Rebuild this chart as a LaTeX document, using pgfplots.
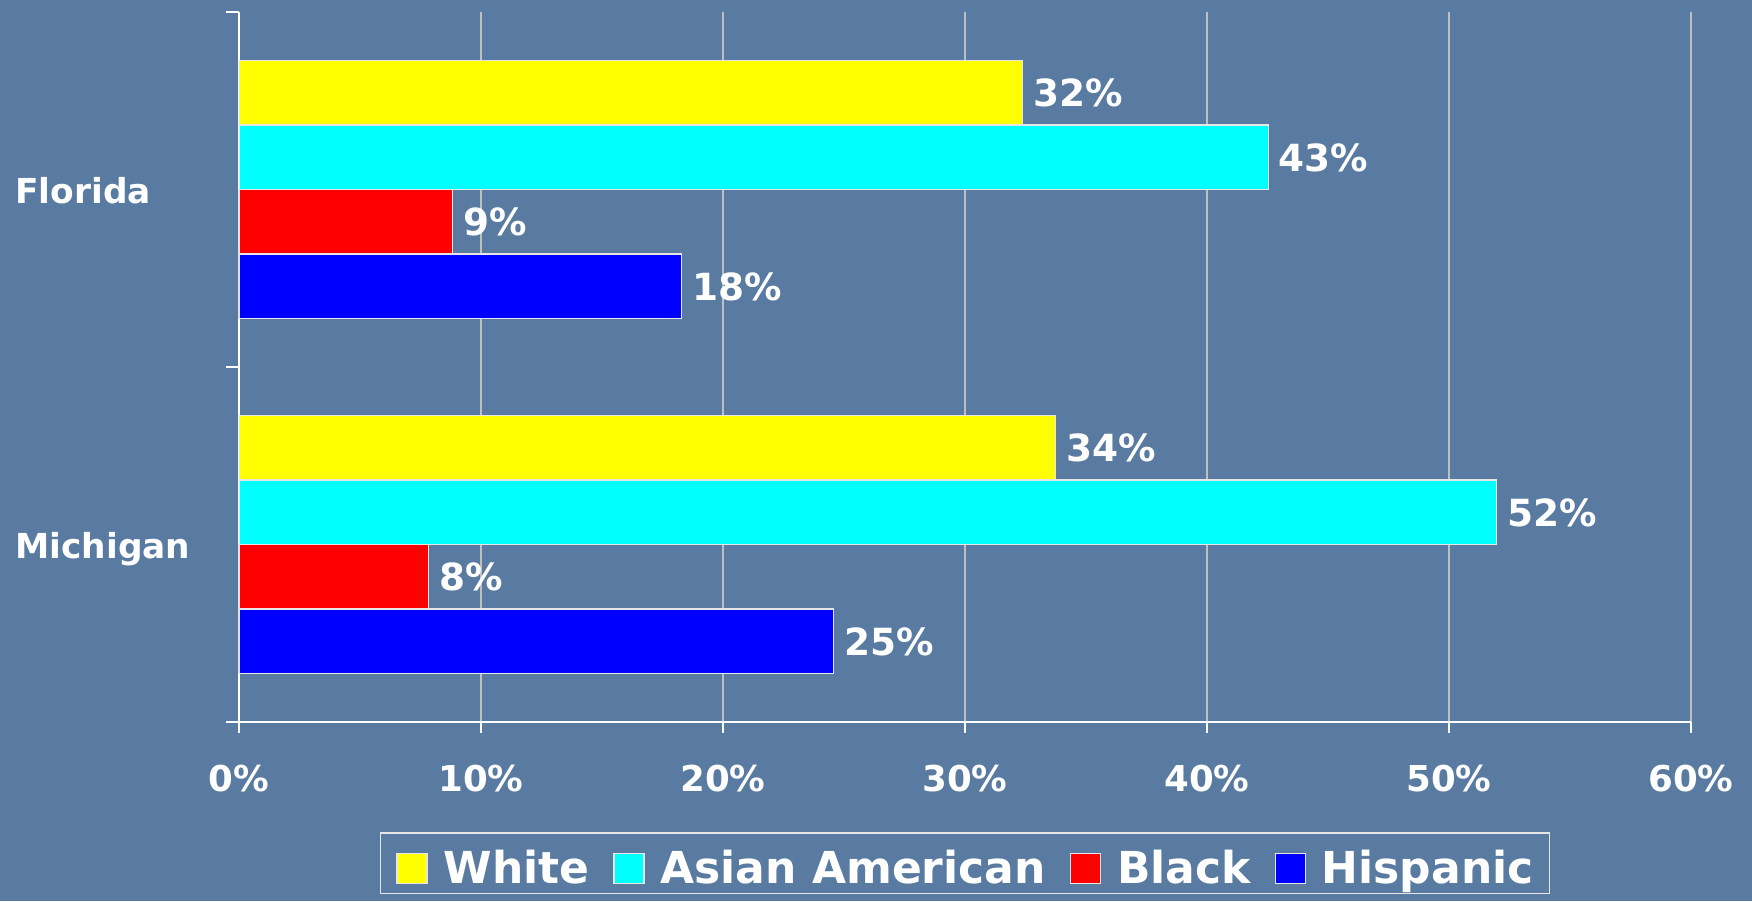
\documentclass[border=0pt]{standalone}
\usepackage{fontspec}
\setmainfont{DejaVu Sans}
\usepackage{pgfplots}
\pgfplotsset{compat=1.18}
\definecolor{bgblue}{HTML}{5A7BA1}
\definecolor{gridgray}{HTML}{BFBFBF}
\definecolor{barline}{HTML}{E6E6E6}
\definecolor{cWhite}{RGB}{255,255,0}
\definecolor{cAsian}{RGB}{0,255,255}
\definecolor{cBlack}{RGB}{255,0,0}
\definecolor{cHisp}{RGB}{0,0,255}
\begin{document}
\begin{tikzpicture}
\fill[bgblue] (-119.5pt,-89.5pt) rectangle (756.5pt,361pt);
\begin{axis}[
  at={(0pt,0pt)}, anchor=south west,
  scale only axis, width=726pt, height=355pt,
  xmin=0, xmax=60, ymin=-0.5, ymax=1.5,
  xbar, bar width=32.25pt,
  axis x line*=bottom, axis y line*=left,
  axis line style={white, line width=1pt, -},
  xtick={0,10,...,60},
  xticklabels={0\%,10\%,20\%,30\%,40\%,50\%,60\%},
  ytick={0,1}, yticklabels={Michigan,Florida},
  minor ytick={-0.5,0.5,1.5},
  tick align=outside,
  major tick length=5.5pt, minor tick length=6.5pt,
  major y tick style={draw=none},
  minor y tick style={white, line width=1pt},
  major x tick style={white, line width=1pt},
  xmajorgrids, major grid style={gridgray, line width=1pt},
  xticklabel style={font=\fontsize{17.8}{20}\selectfont\bfseries, text=white, anchor=base, inner sep=0pt, yshift=-29.35pt},
  yticklabel style={font=\fontsize{17.2}{20}\selectfont\bfseries, text=white, anchor=base west, inner sep=0pt, xshift=-106.5pt, yshift=-7pt},
  nodes near coords, point meta=explicit symbolic,
  every node near coord/.append style={font=\fontsize{18.7}{22}\selectfont\bfseries, text=white, anchor=base west, inner sep=0pt, xshift=5pt, yshift=-7pt},
  legend columns=-1,
  legend style={at={(0.5,0)}, anchor=north, yshift=-55pt, draw=barline, line width=0.8pt, fill=none,
    font=\fontsize{22}{26}\selectfont\bfseries, text=white, inner xsep=8pt, inner ysep=4.5pt,
    nodes={inner sep=0pt, anchor=base west, text height=21pt, text depth=0pt},
    /tikz/every odd column/.append style={column sep=8pt},
    /tikz/every even column/.append style={column sep=12pt}},
  legend image code/.code={\draw[#1, line width=0.6pt] (0pt,0pt) rectangle (15pt,15pt);},
]
\addplot[fill=cWhite, draw=barline, line width=0.6pt, bar shift=48.4pt]
  coordinates {(33.75,0) [34\%] (32.39,1) [32\%]};
\addplot[fill=cAsian, draw=barline, line width=0.6pt, bar shift=16.1pt]
  coordinates {(51.97,0) [52\%] (42.53,1) [43\%]};
\addplot[fill=cBlack, draw=barline, line width=0.6pt, bar shift=-16.1pt]
  coordinates {(7.84,0) [8\%] (8.82,1) [9\%]};
\addplot[fill=cHisp, draw=barline, line width=0.6pt, bar shift=-48.4pt]
  coordinates {(24.57,0) [25\%] (18.29,1) [18\%]};
\legend{White, Asian American, Black, Hispanic}
\end{axis}
\end{tikzpicture}
\end{document}
